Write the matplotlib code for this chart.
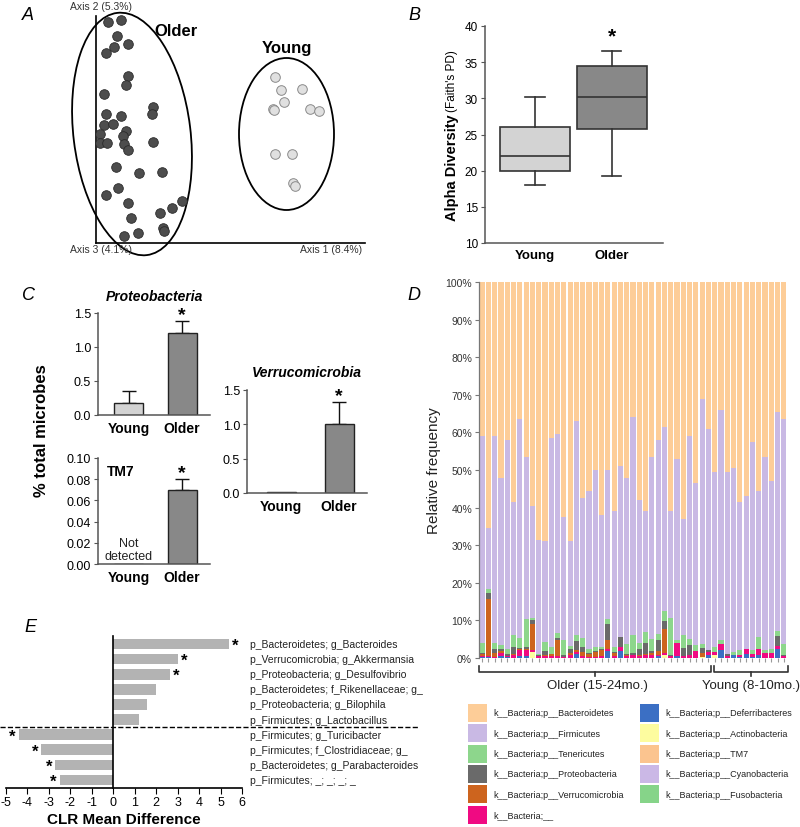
import numpy as np
import matplotlib
matplotlib.use('Agg')
import matplotlib.pyplot as plt
from matplotlib.patches import Ellipse, Rectangle
import matplotlib.transforms as mtransforms

plt.rcParams['font.family'] = ['Liberation Sans', 'DejaVu Sans']
plt.rcParams['axes.unicode_minus'] = False

W, H = 800, 828

# ---- A: PCoA scores (arbitrary units) ----
older_x = [12.3, 25, 20.7, 18.3, 31.7, 9.7, 32.3, 30, 8.3, 56.7, 56, 10, 25.3, 7.7, 17.3, 30.3, 4,
           26.7, 4, 11.3, 27.7, 32.3, 57, 20, 43.3, 66.3, 22.3, 10, 32.3, 86, 75.7, 64, 34.7, 66.7, 68,
           42.3, 27.7]
older_y = [221.3, 223, 207.3, 195.7, 199, 190, 167.3, 158, 149, 136.3, 129, 128.7, 127, 118, 119.3,
           112.3, 109, 106.7, 100, 100, 99, 93.3, 101.3, 75.7, 70.3, 70.7, 55.3, 48.3, 40, 41.7, 34.7,
           30.3, 25, 14.7, 11.7, 10.3, 7]
young_x = [179, 185, 206.3, 188.3, 176.7, 178.3, 214, 223.3, 179.3, 196, 196.7, 199]
young_y = [166, 153.3, 154, 141.3, 134, 133, 134, 132.3, 88.7, 88.7, 59.7, 57.3]

# ---- B: Faith's PD box stats ----
groups = ['Young', 'Older']
pd_whislo = [18, 19.3]
pd_q1 = [20, 25.7]
pd_med = [22, 30.2]
pd_q3 = [26, 34.5]
pd_whishi = [30.2, 36.6]

# ---- C: % total microbes ----
proteo_mean = [0.17, 1.2]
proteo_sem = [0.18, 0.18]
verruco_mean = [0.02, 1.0]
verruco_sem = [0.0, 0.33]
tm7_mean = [0.0, 0.07]
tm7_sem = [0.0, 0.01]

# ---- D: relative frequency per sample (%), 37 older then 12 young ----
n_older = 37
bacteroidetes = [41, 65.5, 41, 52, 42, 58.5, 36.5, 46.5, 59.5, 68.5, 69, 41.5, 40.5, 62.5, 69, 37, 57.5,
                 55.5, 50, 62, 50, 61, 49, 52, 36, 58, 61, 46.5, 42, 38.5, 61, 47, 63, 41, 53.5, 31, 39,
                 50.5, 34, 50.5, 49.5, 58.5, 57, 42.5, 55.5, 46.5, 53, 34.5, 36.5]
firmicutes = [55.0, 16.1, 55.0, 44.5, 55.5, 35.5, 58.1, 43.2, 29.9, 30.5, 26.8, 55.5, 52.8, 32.8, 27.8,
              57.0, 37.1, 42.0, 47.1, 35.0, 39.6, 36.1, 45.4, 44.2, 58.0, 38.0, 32.1, 48.4, 51.5, 49.0,
              28.3, 48.3, 31.0, 53.9, 43.1, 65.4, 58.8, 46.6, 61.3, 48.5, 48.9, 39.3, 40.5, 55.3, 38.9,
              51.5, 44.7, 58.2, 59.9]
tenericutes = [2.7, 1.2, 1.7, 1.2, 1.4, 3.2, 2.7, 7.5, 0.4, 0.3, 2.3, 2.0, 1.3, 3.8, 0.8, 1.5, 2.4, 1.1,
               1.0, 0.6, 1.3, 1.4, 0, 2.8, 4.7, 1.5, 2.8, 3.3, 1.6, 2.7, 9.9, 0.7, 3.4, 1.7, 1.6, 0.9, 0,
               1.3, 1.0, 0, 0.7, 1.3, 0, 1.1, 3.2, 0.7, 1.1, 1.5, 2.7]
proteobacteria = [0.3, 1.5, 1.0, 0.5, 0.6, 1.7, 0.3, 0.5, 1.2, 0.2, 1.0, 0, 0.7, 0.6, 1.2, 2.5, 1.5, 0.4,
                  0.4, 0.4, 4.2, 0.2, 2.6, 0.2, 0.6, 1.7, 3.1, 0.5, 3.1, 2.2, 0.4, 0, 2.0, 2.5, 0, 1.3,
                  0.7, 0, 0, 0.5, 0, 0, 0, 0, 0, 0, 0, 2.5, 0.3]
verrucomicrobia = [0.5, 15.2, 1.0, 0.5, 0, 0.3, 0.4, 0.3, 7.0, 0, 0.3, 0.5, 4.3, 0, 0.4, 0.4, 1.0, 0.7,
                   1.2, 1.5, 2.6, 0.8, 0, 0.2, 0, 0.3, 0.2, 0.6, 0.9, 6.3, 0, 0, 0, 0, 0, 1.1, 0,
                   0, 0, 0, 0, 0, 0, 0, 0, 0, 0, 0, 0]
unassigned = [0.3, 0.3, 0.3, 0.8, 0.3, 0.8, 1.5, 1.5, 0.5, 0.5, 0.6, 0.5, 0.4, 0.3, 0.8, 0.6, 0.5, 0.3,
              0.3, 0.5, 0.5, 0.5, 1.2, 0.6, 0.7, 0.5, 0.8, 0.7, 0.4, 0.5, 0.4, 3.6, 0.6, 0.9, 1.8, 0,
              0.8, 0.7, 1.5, 0.5, 0, 0.6, 1.5, 0.8, 1.6, 1.3, 1.2, 0.9, 0.6]
deferribacteres = [0.2, 0.2, 0, 0.5, 0.2, 0, 0.5, 0.5, 0, 0, 0, 0, 0, 0, 0, 1.0, 0, 0, 0, 0, 1.8, 0,
                   1.8, 0, 0, 0, 0, 0, 0.5, 0, 0, 0.4, 0, 0, 0, 0, 0.7, 0, 2.2, 0, 0.9, 0.3, 1.0, 0.3,
                   0.8, 0, 0, 2.4, 0]
actinobacteria = [0, 0, 0, 0, 0, 0, 0, 0, 1.5, 0, 0, 0, 0, 0, 0, 0, 0, 0, 0, 0, 0, 0, 0, 0, 0, 0, 0, 0,
                  0, 0.8, 0, 0, 0, 0, 0, 0.3, 0, 0.9, 0, 0, 0, 0, 0, 0, 0, 0, 0, 0, 0]

legend_labels = ['k__Bacteria;p__Bacteroidetes', 'k__Bacteria;p__Firmicutes',
                 'k__Bacteria;p__Tenericutes', 'k__Bacteria;p__Proteobacteria',
                 'k__Bacteria;p__Verrucomicrobia', 'k__Bacteria;__',
                 'k__Bacteria;p__Deferribacteres', 'k__Bacteria;p__Actinobacteria',
                 'k__Bacteria;p__TM7', 'k__Bacteria;p__Cyanobacteria', 'k__Bacteria;p__Fusobacteria']
legend_colors = ['#fdcd98', '#c9b9e4', '#8dd68c', '#6a6a6a', '#cd641e', '#f00a82',
                 '#3b6fc4', '#fdfc9f', '#fbc48f', '#cbb8e6', '#86d489']

# ---- E: CLR mean difference ----
taxa = ['p_Bacteroidetes; g_Bacteroides', 'p_Verrucomicrobia; g_Akkermansia',
        'p_Proteobacteria; g_Desulfovibrio', 'p_Bacteroidetes; f_Rikenellaceae; g_',
        'p_Proteobacteria; g_Bilophila', 'p_Firmicutes; g_Lactobacillus',
        'p_Firmicutes; g_Turicibacter', 'p_Firmicutes; f_Clostridiaceae; g_',
        'p_Bacteroidetes; g_Parabacteroides', 'p_Firmicutes; _; _; _; _']
clr_diff = [5.4, 3.0, 2.65, 2.0, 1.55, 1.2, -4.4, -3.35, -2.7, -2.5]
clr_sig = [True, True, True, False, False, False, True, True, True, True]

YOUNG_C = '#d3d3d3'
OLDER_C = '#888888'
SPINE_C = '#555555'


def rect(l, t, r, b):
    return [l / W, 1 - b / H, (r - l) / W, (b - t) / H]


def style_axes(ax):
    for s in ['top', 'right']:
        ax.spines[s].set_visible(False)
    for s in ['left', 'bottom']:
        ax.spines[s].set_color(SPINE_C)
        ax.spines[s].set_linewidth(1.1)
    ax.tick_params(axis='y', direction='out', length=3, color=SPINE_C, labelsize=9, pad=2)
    ax.tick_params(axis='x', length=0, labelsize=10, pad=4)


fig = plt.figure(figsize=(W / 100, H / 100), dpi=100)

# ================= A =================
axA = fig.add_axes(rect(60, 0, 400, 290))
axA.set_xlim(-36, 304)
axA.set_ylim(-46, 244)
axA.axis('off')
axA.plot([0, 0], [0, 227], color='black', lw=1.2)
axA.plot([0, 269], [0, 0], color='black', lw=1.2)
axA.add_patch(Ellipse((36, 109), 117, 244, angle=7, fill=False, lw=1.3, ec='black'))
axA.add_patch(Ellipse((190.5, 109), 95, 152, fill=False, lw=1.3, ec='black'))
axA.scatter(older_x, older_y, s=48, c='#4d4d4d', edgecolors='#2a2a2a', linewidths=0.6, zorder=3)
axA.scatter(young_x, young_y, s=48, c='#e0e0e0', edgecolors='#8a8a8a', linewidths=0.7, zorder=3)
axA.text(5, 237, 'Axis 2 (5.3%)', fontsize=7.5, color='#333333', ha='center', va='center')
axA.text(5, -6, 'Axis 3 (4.1%)', fontsize=7.5, color='#333333', ha='center', va='center')
axA.text(235, -6, 'Axis 1 (8.4%)', fontsize=7.5, color='#333333', ha='center', va='center')
axA.text(80, 212, 'Older', fontsize=12, fontweight='bold', ha='center', va='center')
axA.text(191, 196, 'Young', fontsize=12, fontweight='bold', ha='center', va='center')

# ================= B =================
axB = fig.add_axes(rect(485, 27, 663, 244))
stats = [dict(med=pd_med[i], q1=pd_q1[i], q3=pd_q3[i], whislo=pd_whislo[i], whishi=pd_whishi[i],
              label=groups[i]) for i in range(2)]
bp = axB.bxp(stats, positions=[1, 2], widths=0.915, capwidths=0.25, showfliers=False,
             patch_artist=True,
             boxprops=dict(edgecolor='#333333', linewidth=1.2),
             medianprops=dict(color='#333333', linewidth=1.2),
             whiskerprops=dict(color='#333333', linewidth=1.2),
             capprops=dict(color='#333333', linewidth=1.2))
for patch, col in zip(bp['boxes'], [YOUNG_C, OLDER_C]):
    patch.set_facecolor(col)
axB.set_xlim(0.346, 2.673)
axB.set_ylim(10, 40)
axB.set_yticks(np.arange(10, 41, 5))
style_axes(axB)
axB.tick_params(axis='y', labelsize=8.5)
axB.set_xticks([1, 2])
axB.set_xticklabels(groups, fontsize=9.5, fontweight='bold')
axB.text(2, 38.6, '*', fontsize=15, fontweight='bold', ha='center', va='center')
fig.text(452 / W, 1 - 168 / H, 'Alpha Diversity', rotation=90, fontsize=10.5, fontweight='bold',
         ha='center', va='center')
fig.text(452 / W, 1 - 81 / H, "(Faith's PD)", rotation=90, fontsize=8.5, ha='center', va='center')


# ================= C =================
def bar_panel(r, means, sems, ylim, yticks, fmt, xlim, width):
    ax = fig.add_axes(r)
    ax.bar([1, 2], means, width=width, color=[YOUNG_C, OLDER_C], edgecolor='#222222', lw=1.0, zorder=2)
    for xi, m, e in zip([1, 2], means, sems):
        if e > 0:
            ax.errorbar(xi, m, yerr=[[0], [e]], color='#111111', lw=1.0, capsize=5, capthick=1.0,
                        zorder=1)
    ax.set_xlim(*xlim)
    ax.set_ylim(*ylim)
    ax.set_yticks(yticks)
    ax.set_yticklabels([fmt.format(v) for v in yticks])
    style_axes(ax)
    ax.set_xticks([1, 2])
    ax.set_xticklabels(groups, fontweight='bold')
    return ax


axC1 = bar_panel(rect(98, 314, 210, 416), proteo_mean, proteo_sem, (0, 1.5), [0, 0.5, 1.0, 1.5],
                 '{:.1f}', (0.43, 2.52), 0.54)
axC1.text(0.5, 1 + 17 / 102, 'Proteobacteria', transform=axC1.transAxes, fontsize=10,
          fontweight='bold', fontstyle='italic', ha='center', va='center')
axC1.text(2, 1.47, '*', fontsize=14, fontweight='bold', ha='center', va='center')

axC2 = bar_panel(rect(98, 459, 210, 565), tm7_mean, tm7_sem, (0, 0.1), [0, 0.02, 0.04, 0.06, 0.08, 0.1],
                 '{:.2f}', (0.43, 2.52), 0.54)
axC2.text(0.08, 0.0877, 'TM7', fontsize=10, fontweight='bold', ha='left', va='center',
          transform=mtransforms.blended_transform_factory(axC2.transAxes, axC2.transData))
axC2.text(1, 0.014, 'Not\ndetected', fontsize=9, ha='center', va='center', linespacing=1.1,
          color='#222222')
axC2.text(2, 0.0865, '*', fontsize=14, fontweight='bold', ha='center', va='center')

axC3 = bar_panel(rect(247, 391, 367, 494), verruco_mean, verruco_sem, (0, 1.5), [0, 0.5, 1.0, 1.5],
                 '{:.1f}', (0.414, 2.48), 0.5)
axC3.text(0.5, 1 + 18 / 103, 'Verrucomicrobia', transform=axC3.transAxes, fontsize=10,
          fontweight='bold', fontstyle='italic', ha='center', va='center')
axC3.text(2, 1.42, '*', fontsize=14, fontweight='bold', ha='center', va='center')

fig.text(42 / W, 1 - 431 / H, '% total microbes', rotation=90, fontsize=12, fontweight='bold',
         ha='center', va='center')

# ================= D =================
axD = fig.add_axes(rect(479, 283, 787, 659))
xs = np.arange(len(bacteroidetes))
stack = [(actinobacteria, legend_colors[7]), (deferribacteres, legend_colors[6]),
         (unassigned, legend_colors[5]), (verrucomicrobia, legend_colors[4]),
         (proteobacteria, legend_colors[3]), (tenericutes, legend_colors[2]),
         (firmicutes, legend_colors[1]), (bacteroidetes, legend_colors[0])]
bottom = np.zeros(len(xs))
for vals, col in stack:
    vals = np.array(vals, dtype=float)
    axD.bar(xs, vals, bottom=bottom, width=0.82, color=col, lw=0)
    bottom += vals
axD.set_xlim(-0.5, len(xs) - 0.5)
axD.set_ylim(0, 100)
axD.set_yticks(np.arange(0, 101, 10))
axD.set_yticklabels([f'{v}%' for v in range(0, 101, 10)])
for s in ['top', 'right', 'bottom']:
    axD.spines[s].set_visible(False)
axD.spines['left'].set_color('#777777')
axD.spines['left'].set_linewidth(0.9)
axD.tick_params(axis='y', direction='out', length=3, color='#777777', labelsize=7.5, pad=2,
                labelcolor='#333333')
axD.set_xticks(xs)
axD.set_xticklabels([])
axD.tick_params(axis='x', direction='out', length=3, color='#999999', width=0.8)
axD.axhline(0, color='#888888', lw=0.8, zorder=0)
axD.set_ylabel('Relative frequency', fontsize=11, color='#222222')
axD.yaxis.set_label_coords(-(479 - 441) / 308, 0.5)

trD = mtransforms.blended_transform_factory(axD.transData, axD.transAxes)
for x0, x1, lab in [(-0.5, n_older - 0.6, 'Older (15-24mo.)'),
                    (n_older - 0.1, len(xs) - 0.4, 'Young (8-10mo.)')]:
    axD.plot([x0, x0, x1, x1], [-0.021, -0.037, -0.037, -0.021], color='#333333', lw=1.2,
             transform=trD, clip_on=False)
    xm = (x0 + x1) / 2
    axD.plot([xm, xm], [-0.037, -0.048], color='#333333', lw=1.2, transform=trD, clip_on=False)
fig.text(597 / W, 1 - 686 / H, 'Older (15-24mo.)', fontsize=9.5, ha='center', va='center',
         color='#222222')
fig.text(751 / W, 1 - 686 / H, 'Young (8-10mo.)', fontsize=9.5, ha='center', va='center',
         color='#222222')

# legend
for i, (lab, col) in enumerate(zip(legend_labels, legend_colors)):
    col_i, row_i = (0, i) if i < 6 else (1, i - 6)
    sx = 468 if col_i == 0 else 640
    cy = 714 + row_i * 20.3
    fig.patches.append(Rectangle((sx / W, 1 - (cy + 9) / H), 19 / W, 18 / H, transform=fig.transFigure,
                                 facecolor=col, edgecolor='none'))
    fig.text((sx + 25) / W, 1 - cy / H, lab, fontsize=6.5, ha='left', va='center', color='#222222')

# ================= E =================
axE = fig.add_axes(rect(6, 637, 242, 789))
ys = np.arange(len(clr_diff))
axE.barh(ys, clr_diff, height=0.7, color='#b3b3b3', lw=0)
axE.set_xlim(-5, 6)
axE.set_ylim(len(clr_diff) - 0.47, -0.53)
axE.spines['left'].set_position(('data', 0))
axE.spines['left'].set_color('black')
axE.spines['left'].set_linewidth(1.2)
axE.spines['bottom'].set_color('black')
axE.spines['bottom'].set_linewidth(1.2)
for s in ['top', 'right']:
    axE.spines[s].set_visible(False)
axE.set_yticks([])
axE.set_xticks(np.arange(-5, 7))
axE.tick_params(axis='x', direction='out', length=4, labelsize=9, pad=2)
axE.set_xlabel('CLR Mean Difference', fontsize=11, fontweight='bold', labelpad=3)
axE.plot([-5.3, 14.2], [5.5, 5.5], ls='--', color='black', lw=1.0, clip_on=False)
for y, v, sig, lab in zip(ys, clr_diff, clr_sig, taxa):
    axE.text(6.39, y, lab, fontsize=7.5, ha='left', va='center', color='#222222')
    if sig:
        axE.text(v + (0.3 if v > 0 else -0.3), y + 0.1, '*', fontsize=12, fontweight='bold',
                 ha='center', va='center')

# panel letters
for lab, x, y in [('A', 28, 16), ('B', 414, 16), ('C', 28, 296), ('D', 414, 296), ('E', 30, 627)]:
    fig.text(x / W, 1 - y / H, lab, fontsize=13, fontstyle='italic', ha='center', va='center')

fig.savefig('out.png', dpi=100)
